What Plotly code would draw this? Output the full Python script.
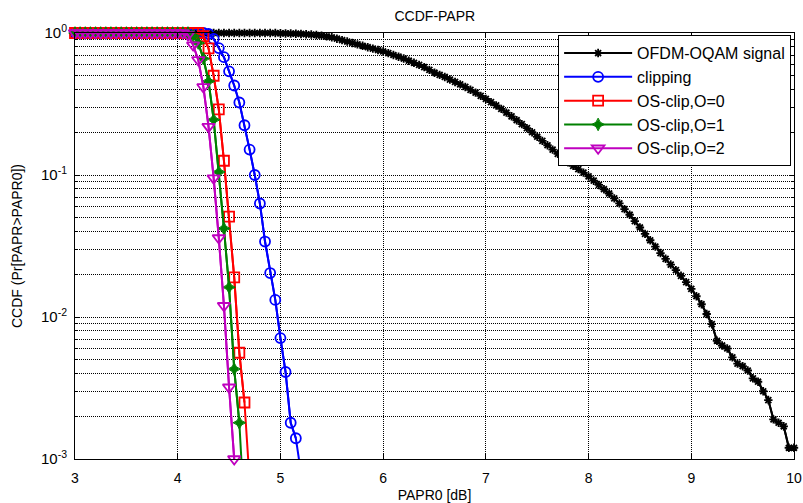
import plotly.graph_objects as go

# ---------------- data ----------------
# PAPR0 grid (dB): 3.00 .. 10.00, step 0.05
papr0 = [round(3 + 0.05 * i, 2) for i in range(141)]

# OFDM-OQAM signal CCDF (3.00 .. 4.95 equal to 1)
ofdm_ccdf = [1.0] * 40 + [
    0.995, 0.993, 0.991, 0.988, 0.984, 0.980, 0.975, 0.968, 0.959, 0.948,
    0.933, 0.912, 0.891, 0.871, 0.851, 0.832, 0.813, 0.794, 0.776, 0.759,
    0.741, 0.721, 0.700, 0.681, 0.661, 0.638, 0.617, 0.596, 0.575, 0.550,
    0.525, 0.507, 0.490, 0.470, 0.452, 0.435, 0.417, 0.398, 0.380, 0.361,
    0.343, 0.326, 0.309, 0.292, 0.275, 0.259, 0.243, 0.228, 0.214, 0.200,
    0.186, 0.174, 0.162, 0.151, 0.141, 0.132, 0.123, 0.116, 0.110, 0.104,
    0.0977, 0.0912, 0.0851, 0.0794, 0.0741, 0.0684, 0.0631, 0.0575, 0.0525, 0.0473,
    0.0427, 0.0385, 0.0347, 0.0313, 0.0282, 0.0257, 0.0234, 0.0214, 0.0195, 0.0176,
    0.0158, 0.0140, 0.0123, 0.0105, 0.0089, 0.0068, 0.0063, 0.0060, 0.0052, 0.0047,
    0.0045, 0.0042, 0.0037, 0.0035, 0.0030, 0.0026, 0.0019, 0.0018, 0.0017, 0.0012,
    0.0012,
]

# clipping: 3.00 .. 4.25 equal to 1, then from 4.30
clip_ccdf = [1.0] * 26 + [
    0.984, 0.908, 0.783, 0.676, 0.537, 0.427, 0.324, 0.224, 0.151, 0.100,
    0.063, 0.034, 0.0204, 0.0132, 0.0071, 0.0041, 0.0018, 0.0014, 0.0008,
]

# OS-clip, O=0: 3.00 .. 4.20 equal to 1, then from 4.25
os0_ccdf = [1.0] * 25 + [
    0.95, 0.78, 0.50, 0.29, 0.126, 0.051, 0.019, 0.0056, 0.0025, 0.0007,
]

# OS-clip, O=1: 3.00 .. 4.10 equal to 1, then from 4.15
os1_ccdf = [1.0] * 23 + [
    0.955, 0.85, 0.66, 0.457, 0.245, 0.105, 0.042, 0.0162, 0.0043, 0.0018, 0.0004,
]

# OS-clip, O=2: 3.00 .. 4.05 equal to 1, then from 4.10
os2_ccdf = [1.0] * 22 + [
    0.968, 0.822, 0.646, 0.417, 0.219, 0.095, 0.036, 0.012, 0.0032, 0.001,
]

series_names = ["OFDM-OQAM signal", "clipping", "OS-clip,O=0", "OS-clip,O=1", "OS-clip,O=2"]
series_vals = [ofdm_ccdf, clip_ccdf, os0_ccdf, os1_ccdf, os2_ccdf]

x_ticks = [3, 4, 5, 6, 7, 8, 9, 10]
y_ticks = [1, 0.1, 0.01, 0.001]
y_ticktext = ["10<sup>0</sup>", "10<sup>-1</sup>", "10<sup>-2</sup>", "10<sup>-3</sup>"]

# ---------------- styles ----------------
colors = ["#000000", "#0000FF", "#FF0000", "#008000", "#BF00BF"]
symbols = ["asterisk-open", "circle-open", "square-open", "star-diamond", "triangle-down-open"]
msizes = [7, 10, 10, 9, 11]

fig = go.Figure()
ymin = 1e-3
for name, vals, c, s, ms in zip(series_names, series_vals, colors, symbols, msizes):
    xs = papr0[:len(vals)]
    # full line (clipped by axes)
    fig.add_trace(go.Scatter(x=xs, y=vals, mode="lines", line=dict(color=c, width=2),
                             showlegend=False, hoverinfo="skip"))
    # in-range points with markers (markers not clipped at axis edge)
    xin = [x for x, v in zip(xs, vals) if v >= ymin * 0.999]
    yin = [v for v in vals if v >= ymin * 0.999]
    fig.add_trace(go.Scatter(
        x=xin, y=yin, mode="lines+markers", name=name, cliponaxis=False,
        line=dict(color=c, width=2),
        marker=dict(symbol=s, size=ms, color=c,
                    line=dict(color=c, width=1.8 if s != "star-diamond" else 1)),
    ))

minor_vals = [k * 10 ** e for e in (-3, -2, -1) for k in range(2, 10)]
grid_dash = "1px,1px"

fig.update_layout(
    width=803, height=503,
    margin=dict(l=75, r=9, t=33, b=44, autoexpand=False),
    paper_bgcolor="white", plot_bgcolor="white",
    font=dict(family="Liberation Sans, Arial, sans-serif", size=14, color="#000000"),
    title=dict(text="CCDF-PAPR", x=0.5415, xanchor="center", y=0.967, yanchor="middle",
               font=dict(size=14, color="#000000")),
    showlegend=True,
    legend=dict(x=0.996, y=0.995, xanchor="right", yanchor="top",
                bgcolor="white", bordercolor="#000000", borderwidth=1,
                itemwidth=68,
                font=dict(size=16, color="#000000"), tracegroupgap=0),
    xaxis=dict(
        range=[3, 10], tickvals=x_ticks, ticks="inside", ticklen=5, tickcolor="#000",
        showline=True, linecolor="#000", linewidth=1, mirror="allticks",
        showgrid=True, gridcolor="#000", griddash=grid_dash, gridwidth=1,
        zeroline=False, automargin=False, ticklabelstandoff=6,
        title=dict(text="PAPR0 [dB]", standoff=6, font=dict(size=14)),
        tickfont=dict(size=14),
    ),
    yaxis=dict(
        type="log", range=[-3, 0], tickvals=y_ticks, ticktext=y_ticktext,
        ticks="inside", ticklen=5, tickcolor="#000",
        showline=True, linecolor="#000", linewidth=1, mirror="allticks",
        showgrid=True, gridcolor="#000", griddash=grid_dash, gridwidth=1,
        minor=dict(tickvals=minor_vals, ticks="inside", ticklen=3, tickcolor="#000",
                   showgrid=True, gridcolor="#000", griddash=grid_dash, gridwidth=1),
        zeroline=False, automargin=False, ticklabelstandoff=4,
        title=dict(text="CCDF (Pr[PAPR>PAPR0])", standoff=15, font=dict(size=14)),
        tickfont=dict(size=15),
    ),
)

fig.write_html("out.html")
